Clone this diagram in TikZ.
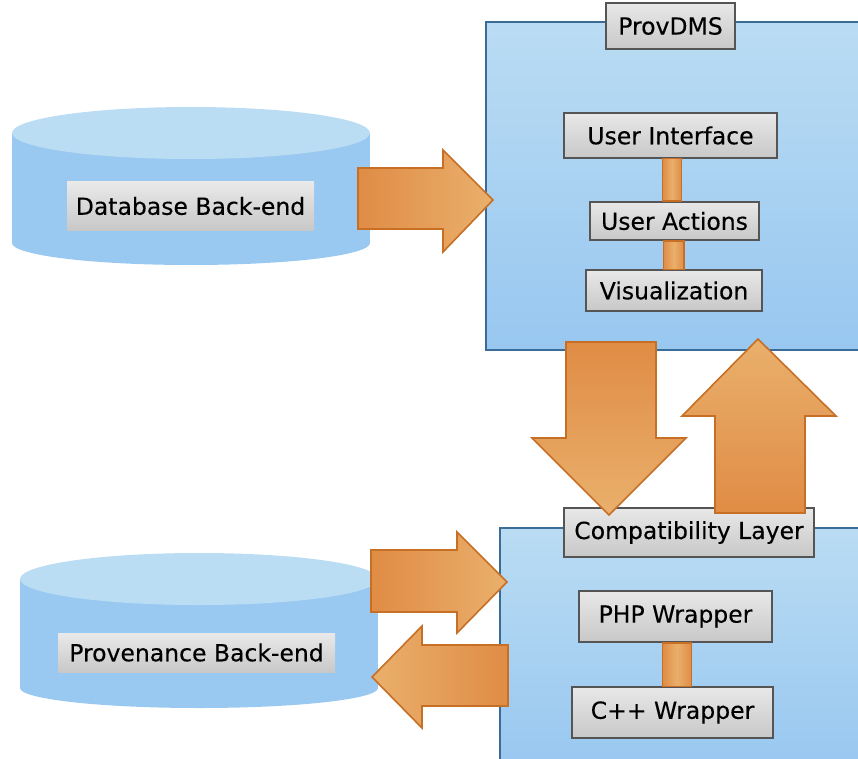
\documentclass[tikz,border=0pt]{standalone}
\usepackage{fontspec}
\setmainfont[FakeBold=0.3]{DejaVu Sans}
\usetikzlibrary{positioning}

\definecolor{boxtop}{HTML}{BADCF3}
\definecolor{boxbot}{HTML}{98C7F0}
\definecolor{boxline}{HTML}{3B6C98}
\definecolor{cyltop}{HTML}{BBDDF3}
\definecolor{cylbody}{HTML}{99C9F1}
\definecolor{ordark}{HTML}{E08C45}
\definecolor{orlight}{HTML}{E9B06C}
\definecolor{orline}{HTML}{C86F26}
\definecolor{gtop}{HTML}{E8E8E8}
\definecolor{gbot}{HTML}{C8C8C8}
\definecolor{gline}{HTML}{555555}

\tikzset{
	layer/.style={draw=boxline, line width=1.6pt, top color=boxtop, bottom color=boxbot, inner sep=0pt},
	part/.style={draw=gline, line width=1.8pt, top color=gtop, bottom color=gbot, inner sep=0pt},
	tag/.style={top color=gtop!95!white, bottom color=gbot, inner sep=0pt},
	fatarrow/.style={draw=orline, line width=1.6pt, line join=miter},
	bar/.style={draw=orline, line width=1.2pt, left color=ordark, right color=ordark, middle color=orlight}
}

\begin{document}
\begin{tikzpicture}[x=1pt, y=-1pt, font=\fontsize{23.5}{28}\selectfont]
	\useasboundingbox (0,0) rectangle (858,759);

	% database back-end
	\fill [cylbody] (191,243) ellipse (179pt and 22pt);
	\fill [cylbody] (12,133) rectangle (370,243);
	\fill [cyltop] (191,133) ellipse (179pt and 26pt);
	\node (db) [tag, minimum width=247pt, minimum height=48pt] at (190.5,206)
		{Database Back-end};

	% provenance back-end
	\fill [cylbody] (199,688) ellipse (179pt and 20pt);
	\fill [cylbody] (20,579) rectangle (378,688);
	\fill [cyltop] (199,579) ellipse (179pt and 26pt);
	\node (prov) [tag, minimum width=277pt, minimum height=39pt] at (196.5,652.5)
		{Provenance Back-end};

	% ProvDMS
	\node (dms) [layer, minimum width=384pt, minimum height=328pt] at (678,186) {};
	\node (dmstitle) [part, minimum width=129pt, minimum height=46pt] at (670.5,26)
		{ProvDMS};
	\node (ui) [part, minimum width=213pt, minimum height=45pt] at (670.5,135.5)
		{User Interface};
	\node (ua) [part, minimum width=169pt, minimum height=38pt] at (674.5,221)
		{User Actions};
	\node (vis) [part, minimum width=176pt, minimum height=41pt] at (674,290.5)
		{Visualization};
	\path [bar] ([xshift=-8pt]ui.south) rectangle ([xshift=7pt]ua.north);
	\path [bar] ([xshift=-11pt]ua.south) rectangle ([xshift=10pt]vis.north);

	% compatibility layer
	\node (compat) [layer, minimum width=370pt, minimum height=242pt] at (685,649) {};
	\node (compattitle) [part, minimum width=250pt, minimum height=49pt] at (689,532.5)
		{Compatibility Layer};
	\node (php) [part, minimum width=193pt, minimum height=51pt] at (675.5,616.5)
		{PHP Wrapper};
	\node (cpp) [part, minimum width=201pt, minimum height=51pt] at (672.5,712.5)
		{C++ Wrapper};
	\path [bar] ([xshift=-13pt]php.south) rectangle ([xshift=19pt]cpp.north);

	% big arrows
	\path [fatarrow, left color=ordark, right color=orlight]
		(358,168) -- (443,168) -- (443,150) -- (493,200)
		-- (443,252) -- (443,229) -- (358,229) -- cycle;
	\path [fatarrow, top color=ordark, bottom color=orlight]
		(566,342) -- (656,342) -- (656,438) -- (686,438)
		-- (609,515) -- (532,438) -- (566,438) -- cycle;
	\path [fatarrow, top color=orlight, bottom color=ordark]
		(715,513) -- (805,513) -- (805,416) -- (836,416)
		-- (758,339) -- (682,416) -- (715,416) -- cycle;
	\path [fatarrow, left color=ordark, right color=orlight]
		(371,550) -- (457,550) -- (457,532) -- (507,582)
		-- (457,633) -- (457,612) -- (371,612) -- cycle;
	\path [fatarrow, left color=orlight, right color=ordark]
		(508,645) -- (422,645) -- (422,626) -- (372,677)
		-- (422,728) -- (422,706) -- (508,706) -- cycle;
\end{tikzpicture}
\end{document}
